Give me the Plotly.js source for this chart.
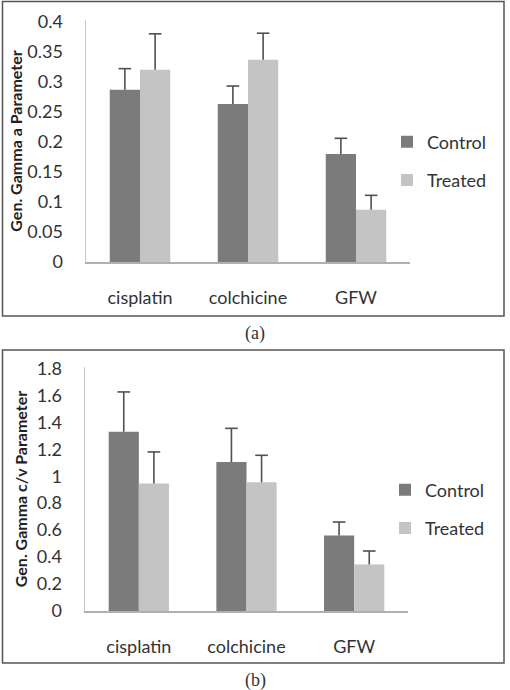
<!DOCTYPE html>
<html>
<head>
<meta charset="utf-8">
<script src="https://cdn.plot.ly/plotly-3.0.1.min.js"></script>
<style>
html,body{margin:0;padding:0;background:#fff;}
#chart{width:510px;height:690px;}
</style>
</head>
<body>
<div id="chart"></div>
<script>
// Categories
const categories = ["cisplatin", "colchicine", "GFW"];

// Panel (a): Gen. Gamma a Parameter
const aControl = [0.287, 0.263, 0.180];
const aControlErr = [0.035, 0.030, 0.026];
const aTreated = [0.320, 0.337, 0.087];
const aTreatedErr = [0.060, 0.044, 0.024];

// Panel (b): Gen. Gamma c/v Parameter
const bControl = [1.330, 1.105, 0.560];
const bControlErr = [0.295, 0.250, 0.100];
const bTreated = [0.945, 0.955, 0.345];
const bTreatedErr = [0.235, 0.200, 0.100];

const seriesNames = ["Control", "Treated"];

const FONT = "Lato, 'Open Sans', sans-serif";
const CTRL = "#7b7b7b";
const TRT = "#c4c4c4";
const ERRC = "#505050";
const BARW = 0.28;
const idx = categories.map((_, i) => i);

function barTrace(y, err, name, color, side, xa, ya, legend, group) {
  return {
    type: "bar", x: idx, y: y, name: name,
    width: BARW, offset: side < 0 ? -BARW : 0,
    xaxis: xa, yaxis: ya, legend: legend, legendgroup: group,
    marker: {color: color, line: {width: 0}},
    error_y: {type: "data", array: err, arrayminus: err.map(() => 0), symmetric: false,
              color: ERRC, thickness: 1.6, width: 0},
    hoverinfo: "skip"
  };
}
function capTrace(y, err, side, xa, ya) {
  return {
    type: "scatter", mode: "markers", showlegend: false,
    x: idx.map(i => i + side * BARW / 2),
    y: y.map((v, i) => v + err[i]),
    xaxis: xa, yaxis: ya,
    marker: {symbol: "line-ew", size: 9, color: ERRC, line: {color: ERRC, width: 1.6}},
    hoverinfo: "skip"
  };
}

const data = [
  barTrace(aControl, aControlErr, seriesNames[0], CTRL, -1, "x", "y", "legend", "a1"),
  barTrace(aTreated, aTreatedErr, seriesNames[1], TRT, 1, "x", "y", "legend", "a2"),
  barTrace(bControl, bControlErr, seriesNames[0], CTRL, -1, "x2", "y2", "legend2", "b1"),
  barTrace(bTreated, bTreatedErr, seriesNames[1], TRT, 1, "x2", "y2", "legend2", "b2"),
  capTrace(aControl, aControlErr, -1, "x", "y"),
  capTrace(aTreated, aTreatedErr, 1, "x", "y"),
  capTrace(bControl, bControlErr, -1, "x2", "y2"),
  capTrace(bTreated, bTreatedErr, 1, "x2", "y2")
];

const W = 510, H = 690;
const px = v => v / W;
const py = v => 1 - v / H;

const xCommon = {
  showgrid: false, zeroline: false, showline: true, linecolor: "#b0b0b0", linewidth: 1.5,
  ticks: "", tickfont: {family: FONT, size: 18, color: "#333"}, ticklabelstandoff: 19,
  tickmode: "array", tickvals: idx, ticktext: categories, range: [-0.5, categories.length - 0.5],
  fixedrange: true
};
const yCommon = {
  showgrid: false, zeroline: false, showline: true, linecolor: "#c8c8c8", linewidth: 1.5,
  ticks: "", tickfont: {family: FONT, size: 18, color: "#333"}, ticklabelstandoff: 18,
  fixedrange: true
};

const legendCommon = {
  font: {family: FONT, size: 18, color: "#333"},
  bgcolor: "rgba(0,0,0,0)", borderwidth: 0,
  xanchor: "left", yanchor: "middle", traceorder: "grouped", tracegroupgap: 12,
  itemclick: false, itemdoubleclick: false
};

const layout = {
  width: W, height: H,
  margin: {l: 0, r: 0, t: 0, b: 0},
  paper_bgcolor: "#fff", plot_bgcolor: "#fff",
  barmode: "overlay",
  showlegend: true,
  xaxis: Object.assign({}, xCommon, {domain: [px(86), px(410)], anchor: "y"}),
  yaxis: Object.assign({}, yCommon, {domain: [py(262), py(20)], anchor: "x",
    range: [0, 0.403], dtick: 0.05, tick0: 0,
    title: {text: "<b>Gen. Gamma a Parameter</b>", font: {family: FONT, size: 16, color: "#222"}, standoff: 0}}),
  xaxis2: Object.assign({}, xCommon, {domain: [px(85), px(408)], anchor: "y2"}),
  yaxis2: Object.assign({}, yCommon, {domain: [py(611), py(367)], anchor: "x2",
    range: [0, 1.81], dtick: 0.2, tick0: 0,
    title: {text: "<b>Gen. Gamma c/v Parameter</b>", font: {family: FONT, size: 16, color: "#222"}, standoff: 5}}),
  legend: Object.assign({}, legendCommon, {x: px(387), y: py(161)}),
  legend2: Object.assign({}, legendCommon, {x: px(385), y: py(509)}),
  shapes: [
    {type: "rect", xref: "paper", yref: "paper", x0: px(2.5), x1: px(504), y0: py(316), y1: py(1.5),
     line: {color: "#555", width: 1.5}, fillcolor: "rgba(0,0,0,0)", layer: "below"},
    {type: "rect", xref: "paper", yref: "paper", x0: px(2.5), x1: px(504), y0: py(663), y1: py(350),
     line: {color: "#555", width: 1.5}, fillcolor: "rgba(0,0,0,0)", layer: "below"}
  ],
  annotations: [
    {text: "(a)", xref: "paper", yref: "paper", x: px(255), y: py(333), showarrow: false,
     xanchor: "center", yanchor: "middle", font: {family: "'Liberation Serif', 'Times New Roman', serif", size: 18, color: "#333"}},
    {text: "(b)", xref: "paper", yref: "paper", x: px(255), y: py(680), showarrow: false,
     xanchor: "center", yanchor: "middle", font: {family: "'Liberation Serif', 'Times New Roman', serif", size: 18, color: "#333"}}
  ]
};

Plotly.newPlot("chart", data, layout, {displayModeBar: false, staticPlot: true});
</script>
</body>
</html>
